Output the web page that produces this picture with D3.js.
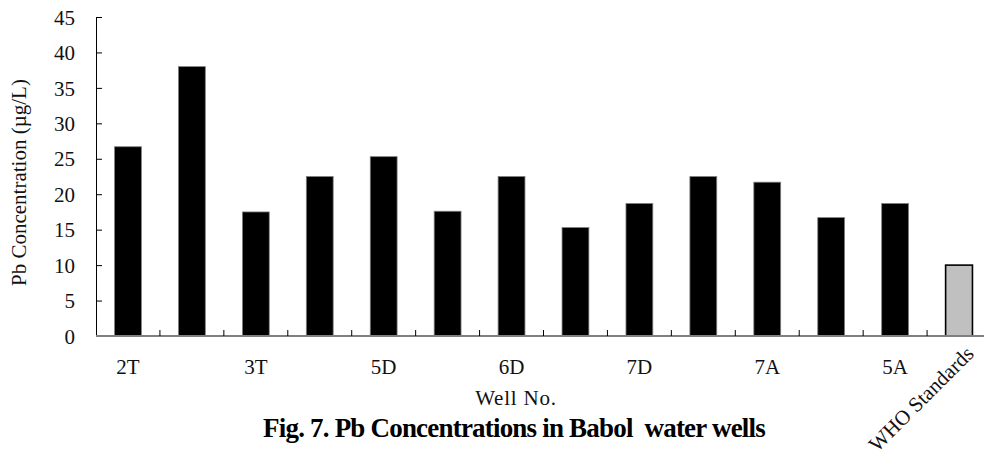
<!DOCTYPE html>
<html>
<head>
<meta charset="utf-8">
<script src="https://cdn.jsdelivr.net/npm/d3@7"></script>
<style>
  body { margin: 0; background: #fff; }
  svg { display: block; font-family: "Liberation Serif", "Times New Roman", serif; }
</style>
</head>
<body>
<svg width="984" height="457"></svg>
<script>
// wells on the x axis (only every other one is labelled in the figure)
var categories = ["2T", "2T-b", "3T", "3T-b", "5D", "5D-b", "6D", "6D-b", "7D", "7D-b", "7A", "7A-b", "5A", "WHO"];
var tickLabels = ["2T", "", "3T", "", "5D", "", "6D", "", "7D", "", "7A", "", "5A", "WHO Standards"];
var pbValues = [26.7, 38, 17.5, 22.5, 25.3, 17.6, 22.5, 15.3, 18.7, 22.5, 21.7, 16.7, 18.7, 10];
var yTicks = [0, 5, 10, 15, 20, 25, 30, 35, 40, 45];

var plotLeft = 96, plotRight = 991, plotTop = 17, plotBottom = 336;

var svg = d3.select("svg");

var x = d3.scaleBand().domain(categories).range([plotLeft, plotRight])
    .paddingInner(0.58).paddingOuter(0.29);
var y = d3.scaleLinear().domain([0, 45]).range([plotBottom, plotTop]);

// bars
svg.append("g")
    .selectAll("rect")
    .data(pbValues)
    .enter()
    .append("rect")
    .attr("x", function(d, i) { return x(categories[i]); })
    .attr("y", function(d) { return y(d); })
    .attr("width", x.bandwidth())
    .attr("height", function(d) { return y(0) - y(d); })
    .attr("fill", function(d, i) { return categories[i] == "WHO" ? "#c0c0c0" : "#000"; })
    .attr("stroke", function(d, i) { return categories[i] == "WHO" ? "#000" : "#808080"; })
    .attr("stroke-width", function(d, i) { return categories[i] == "WHO" ? 1.6 : 0.8; });

// y axis
var yAxis = svg.append("g")
    .attr("transform", "translate(" + plotLeft + ",0)")
    .call(d3.axisLeft(y).tickValues(yTicks).tickSizeInner(-6).tickSizeOuter(0).tickPadding(21));
yAxis.select(".domain").attr("stroke", "#000").attr("stroke-width", 1);
yAxis.selectAll(".tick line").attr("stroke", "#000");
yAxis.selectAll("text")
    .attr("font-size", "21px")
    .attr("font-family", "Liberation Serif, serif")
    .attr("fill", "#111")
    .attr("dy", "0.34em");

// x axis: gray baseline, ticks between the categories
var gap = (x.step() - x.bandwidth()) / 2;
var xAxis = svg.append("g").attr("transform", "translate(0," + y(0) + ")");
xAxis.append("line")
    .attr("x1", plotLeft).attr("x2", 984)
    .attr("stroke", "#808080").attr("stroke-width", 2);
xAxis.selectAll(".sep")
    .data(categories.slice(1))
    .enter()
    .append("line")
    .attr("class", "sep")
    .attr("x1", function(d) { return x(d) - gap; })
    .attr("x2", function(d) { return x(d) - gap; })
    .attr("y1", -6).attr("y2", 0)
    .attr("stroke", "#000").attr("stroke-width", 1);

xAxis.selectAll(".lbl")
    .data(categories)
    .enter()
    .append("text")
    .attr("class", "lbl")
    .attr("font-size", "21px")
    .attr("fill", "#111")
    .attr("text-anchor", function(d) { return d == "WHO" ? "end" : "middle"; })
    .attr("transform", function(d) {
        var cx = x(d) + x.bandwidth() / 2;
        if (d == "WHO") return "translate(" + (cx + 16) + ",19) rotate(-45)";
        return "translate(" + cx + ",38)";
    })
    .text(function(d, i) { return tickLabels[i]; });

// axis titles
svg.append("text")
    .attr("transform", "translate(26," + ((plotTop + plotBottom) / 2 + 6) + ") rotate(-90)")
    .attr("text-anchor", "middle")
    .attr("font-size", "21px")
    .attr("fill", "#111")
    .text("Pb Concentration (\u00b5g/L)");

svg.append("text")
    .attr("x", 516).attr("y", 405)
    .attr("text-anchor", "middle")
    .attr("font-size", "21px")
    .attr("letter-spacing", "0.8px")
    .attr("fill", "#111")
    .text("Well No.");

svg.append("text")
    .attr("x", 514).attr("y", 437)
    .attr("text-anchor", "middle")
    .attr("font-size", "27px")
    .attr("font-weight", "bold")
    .attr("letter-spacing", "-0.8px")
    .style("white-space", "pre")
    .attr("fill", "#000")
    .text("Fig. 7. Pb Concentrations in Babol  water wells");
</script>
</body>
</html>
